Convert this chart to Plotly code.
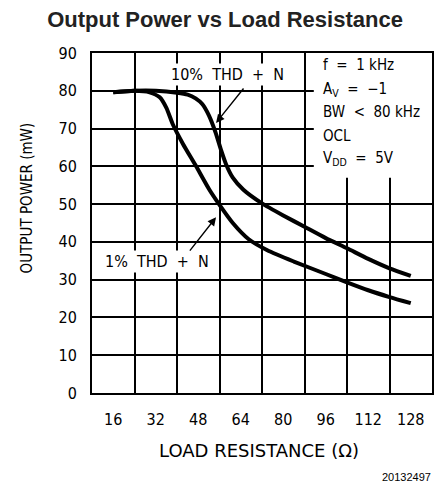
import plotly.graph_objects as go

# Load resistance (ohms) and output power (mW) for each distortion level
r_10 = [16, 24, 32, 40, 44, 47, 49.5, 52, 54.5, 56.5, 58.5, 61, 65, 72, 80, 88, 96, 104, 112, 120, 128]
p_10 = [79.6, 80, 80, 79.5, 79, 78, 76.5, 73.5, 69, 64.5, 60.5, 57, 53.8, 50.2, 47, 44, 41, 38.3, 35.5, 33, 31]

r_1 = [16, 24, 29.7, 33.5, 36, 38.5, 42.2, 47.2, 52.2, 56, 61, 67, 74, 84, 96, 104, 112, 120, 128]
p_1 = [79.6, 80, 79.6, 78.3, 75.5, 71, 66, 60, 53.8, 49.8, 45, 40.7, 37.8, 34.8, 31.5, 29.3, 27.2, 25.4, 23.8]

x_ticks = [16, 32, 48, 64, 80, 96, 112, 128]
y_ticks = [0, 10, 20, 30, 40, 50, 60, 70, 80, 90]

conditions = ["f  =  1 kHz", "A<sub>V</sub>  =  \u22121", "BW  <  80 kHz", "OCL", "V<sub>DD</sub>  =  5V"]
condition_y = [86.9, 80.3, 74.5, 67.9, 62.2]

PLOT_FONT = "DejaVu Sans Condensed, Liberation Sans Narrow, Arial Narrow, sans-serif"
WIDE_FONT = "DejaVu Sans, Verdana, sans-serif"
BLACK = "#000000"

fig = go.Figure()
for xs, ys in [(r_10, p_10), (r_1, p_1)]:
    fig.add_trace(go.Scatter(x=xs, y=ys, mode="lines",
                             line=dict(color=BLACK, width=4, shape="spline", smoothing=0.6),
                             hoverinfo="skip", showlegend=False))

# White panel behind the test conditions
fig.add_shape(type="rect", xref="x", yref="y", x0=91.5, x1=136, y0=57, y1=90,
              fillcolor="white", line=dict(width=0), layer="between")

for txt, yv in zip(conditions, condition_y):
    fig.add_annotation(x=94.2, y=yv, xref="x", yref="y", text=txt, showarrow=False,
                       xanchor="left", yanchor="middle",
                       font=dict(family=PLOT_FONT, size=15, color=BLACK))

# Curve labels with pointer arrows
fig.add_annotation(x=59, y=84.3, xref="x", yref="y", text="10%  THD  +  N", showarrow=False,
                   bgcolor="white", font=dict(family=PLOT_FONT, size=16, color=BLACK))
fig.add_annotation(x=54.7, y=71.5, ax=65.5, ay=81.0, xref="x", yref="y", axref="x", ayref="y",
                   text="", showarrow=True, arrowhead=2, arrowsize=1.2, arrowwidth=1.4,
                   arrowcolor=BLACK)
fig.add_annotation(x=32.3, y=34.7, xref="x", yref="y", text="1%  THD  +  N", showarrow=False,
                   bgcolor="white", font=dict(family=PLOT_FONT, size=16, color=BLACK))
fig.add_annotation(x=54.7, y=46.5, ax=44.4, ay=37.3, xref="x", yref="y", axref="x", ayref="y",
                   text="", showarrow=True, arrowhead=2, arrowsize=1.2, arrowwidth=1.4,
                   arrowcolor=BLACK)

# Axis titles and figure number (positions in pixels, converted below)
fig.add_annotation(x=27, y=198, xref="paper", yref="paper", text="OUTPUT POWER (mW)",
                   showarrow=False, textangle=-90, xanchor="center", yanchor="middle",
                   font=dict(family=PLOT_FONT, size=15, color=BLACK))
fig.add_annotation(x=260, y=450, xref="paper", yref="paper", text="LOAD RESISTANCE (\u03a9)",
                   showarrow=False, xanchor="center", yanchor="middle",
                   font=dict(family=WIDE_FONT, size=18, color=BLACK))
fig.add_annotation(x=435, y=477, xref="paper", yref="paper", text="20132497",
                   showarrow=False, xanchor="right", yanchor="middle",
                   font=dict(family="Liberation Sans, Arial, sans-serif", size=11, color=BLACK))

W, H = 438, 489
L, R, T, B = 92, 4, 53, 96

# convert pixel positions of the free annotations to paper fractions
for ann in fig.layout.annotations:
    if ann.xref == "paper":
        ann.x = (ann.x - L) / (W - L - R)
        ann.y = 1 - (ann.y - T) / (H - T - B)

fig.update_layout(
    width=W, height=H, autosize=False,
    margin=dict(l=L, r=R, t=T, b=B, pad=0),
    paper_bgcolor="white", plot_bgcolor="white",
    title=dict(text="<b>Output Power vs Load Resistance</b>", x=225 / W, xanchor="center",
               y=1 - 19 / H, yanchor="middle",
               font=dict(family="Liberation Sans, Arial, sans-serif", size=22, color="#222222")),
    xaxis=dict(range=[8, 136], tickvals=x_ticks, ticks="", showgrid=False, zeroline=False,
               showline=True, mirror=True, linecolor=BLACK, linewidth=2,
               ticklabelstandoff=11,
               tickfont=dict(family=PLOT_FONT, size=16, color=BLACK),
               minor=dict(tick0=8, dtick=16, showgrid=True, gridcolor=BLACK, gridwidth=1.5,
                          ticks="")),
    yaxis=dict(range=[0, 90], tickvals=y_ticks, ticks="", showgrid=True, gridcolor=BLACK,
               gridwidth=1.5, zeroline=False, showline=True, mirror=True, linecolor=BLACK,
               linewidth=2, ticklabelstandoff=10,
               tickfont=dict(family=PLOT_FONT, size=16, color=BLACK)),
)

fig.write_html("out.html")
